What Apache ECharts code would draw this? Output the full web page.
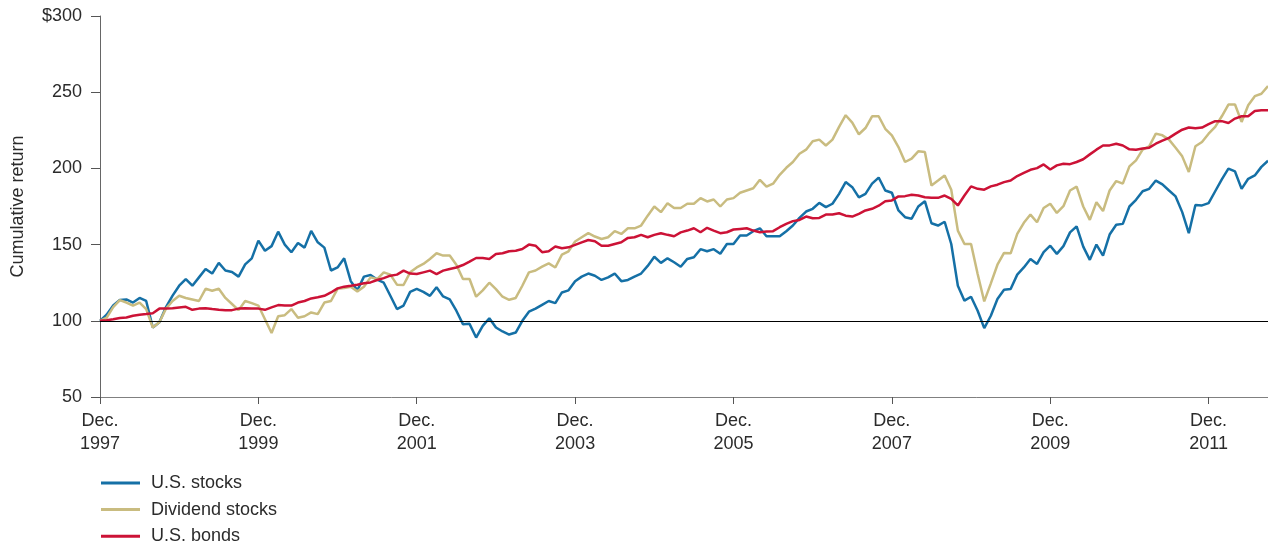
<!DOCTYPE html>
<html>
<head>
<meta charset="utf-8">
<title>Cumulative return</title>
<script src="https://cdn.jsdelivr.net/npm/echarts@6/dist/echarts.min.js"></script>
<style>
  html, body { margin: 0; padding: 0; background: #fff; }
  #chart { width: 1268px; height: 544px; }
</style>
</head>
<body>
<div id="chart"></div>
<script>
// monthly, Dec 1997 .. Sep 2012
const firstYear = 1997
const seriesNames = ['U.S. stocks', 'Dividend stocks', 'U.S. bonds']
const yTicks = [50, 100, 150, 200, 250, 300]

const usStocks = [
  100, 104, 110, 113.6, 114, 112, 115, 113, 95.6, 99, 109, 116.5, 123, 127.4, 123, 128.5, 134, 131, 138, 133,
  132, 129, 137, 141, 152.6, 146, 149, 158.5, 150, 145, 151, 148, 159, 151.5, 148, 133, 135, 141, 126, 120,
  129, 130, 127, 125, 116.4, 107.7, 110, 119, 121, 119, 116.4, 122, 116, 114, 106.6, 97.8, 98, 89, 96.7, 101.7,
  95.6, 93, 91, 92.3, 100, 106, 108, 110.5, 113, 111.6, 118.6, 120, 126, 129, 131, 129.6, 126.8, 128.5, 131, 126,
  126.8, 129, 131, 136, 142, 138, 141, 138.4, 135.5, 140.6, 141.7, 147, 145.6, 147, 144, 150.4, 150.4, 156, 156, 158.8,
  160.7, 155.5, 155.5, 155.5, 158.8, 162.5, 167.5, 171.7, 173.5, 177.4, 174.6, 176.8, 183.3, 191, 187.7, 181, 183.3, 190, 194, 185.5,
  184, 172.4, 168, 167, 175, 178.5, 164, 162.5, 165, 150.4, 123, 113.2, 115.8, 106.6, 95.2, 103.3, 114.3, 120.4, 120.8, 130.3,
  135, 140.6, 137.3, 145, 149.3, 143.9, 149, 158, 162, 148.7, 140, 150, 142.8, 156.6, 163, 163.6, 175, 179.4, 185, 186.6,
  192, 189.5, 185.5, 181.6, 171.3, 157.5, 176, 175.7, 177.2, 185, 192.8, 199.8, 198, 186.6, 193.2, 195.4, 201, 205
]

const dividendStocks = [
  100, 102, 109, 113.6, 112, 110, 112, 107.7, 95.6, 99, 108, 113, 116.4, 115, 114, 113, 121, 119.7, 121, 115,
  111, 107, 113, 111.6, 110, 101, 92, 103, 103.7, 107.7, 102, 103, 105.5, 104.4, 112, 113, 121, 121.5, 122.4, 119.3,
  122.4, 128.5, 127.4, 131.8, 130.3, 123.7, 123.5, 131.8, 135, 137.3, 140.6, 144.3, 142.8, 142.8, 136.8, 127.4, 127.4, 115.8, 120, 125,
  120.8, 115.8, 113.8, 115, 123, 131.8, 133, 135.5, 137.7, 135, 143.4, 145.6, 152, 154.8, 157.5, 155.3, 153.7, 154.8, 158.8, 157,
  160.7, 160.7, 162.5, 169, 175, 171.3, 177.2, 174, 174, 176.8, 176.8, 180.5, 178.3, 179.6, 175, 179.6, 180.5, 184, 185.5, 187,
  192.5, 188, 190, 195.8, 200.4, 204.2, 209.6, 212.3, 217.8, 218.9, 215, 218.9, 227.2, 234.9, 230, 222.4, 226.5, 234.2, 234.2, 226,
  221.7, 214, 204.2, 206.4, 211.2, 210.7, 188.8, 192, 195.4, 186, 159.2, 150.4, 150.4, 130.7, 112.7, 124.6, 136.8, 144.5, 144.3, 157,
  164.3, 169.7, 164.7, 174, 176.8, 170.8, 175.2, 185.5, 188, 175, 166.2, 177.8, 172, 185.5, 191.7, 190, 201.3, 205.3, 212.3, 214.5,
  222.8, 221.7, 218.9, 213.6, 207.9, 197.6, 214.5, 217.3, 222.8, 227.2, 234.2, 241.9, 241.9, 230.5, 241.4, 247.4, 249, 254
]

const usBonds = [
  100, 100.4, 101, 101.8, 102.2, 103.3, 104, 104.4, 105, 108, 108, 108.3, 108.8, 109.2, 107.2, 108, 108.3, 107.7, 107.2, 107,
  107, 108, 108.3, 108, 108, 107.2, 108.8, 110.3, 110, 110, 112, 113, 114.7, 115.4, 116.4, 118.6, 121.3, 122.4, 123, 123.7,
  124.6, 125.2, 126.8, 128, 129.6, 130.3, 132.9, 131, 130.7, 131.8, 132.9, 130.7, 132.9, 134, 135, 136.6, 138.8, 141.2, 141.2, 140.6,
  143.9, 144.3, 145.6, 146, 147.1, 150, 149.3, 145, 145.6, 148.7, 147.6, 148.2, 149.8, 151.5, 153, 152.2, 149.3, 149.3, 150.4, 151.5,
  154.4, 154.8, 156.4, 154.8, 156.4, 157.5, 156.4, 155.5, 158, 159.2, 160.7, 158.1, 161, 159.2, 157.5, 158.1, 159.9, 160.3, 160.7, 159.2,
  158.1, 158.6, 158.8, 161.4, 163.6, 165.4, 166.2, 168.4, 167.3, 167.5, 169.7, 169.7, 170.6, 169, 168.4, 170.2, 172.4, 173.5, 175.5, 178.5,
  179, 181.6, 181.8, 182.7, 182.2, 181.1, 180.7, 180.7, 182.2, 180, 175.7, 182.2, 188.2, 186.6, 186, 188.2, 189.3, 191, 192, 195,
  197.1, 199.1, 200.2, 202.6, 199.3, 202, 203, 202.8, 204.2, 206, 209.2, 212.3, 215, 215.1, 216.2, 215, 212.5, 212.3, 213, 213.6,
  216.2, 218.2, 220, 222.8, 225.4, 226.8, 226.4, 226.8, 229, 231, 231, 229.8, 232.7, 234.2, 234.2, 237.7, 238.2, 238.2
]

// month categories built from the start year
const monthNames = ['Dec.', 'Jan.', 'Feb.', 'Mar.', 'Apr.', 'May', 'Jun.', 'Jul.', 'Aug.', 'Sep.', 'Oct.', 'Nov.']
const months = usStocks.map(function (v, i) {
  const year = firstYear + Math.floor((i + 11) / 12)
  return monthNames[i % 12] + '\n' + year
})

const font = 'Liberation Sans'
const textColor = '#2b2b2b'
const colors = ['#1570a6', '#c9bc80', '#cc1236']

let chart = echarts.init(document.getElementById('chart'))
let option = {
  animation: false,
  color: colors,
  textStyle: { fontFamily: font },
  grid: { left: 100, right: 0, top: 16, bottom: 147, containLabel: false },
  legend: {
    orient: 'vertical',
    left: 101,
    top: 474,
    height: 90,
    padding: 0,
    itemWidth: 39,
    itemHeight: 3,
    itemGap: 8.6,
    icon: 'rect',
    data: seriesNames,
    textStyle: { fontSize: 18, color: textColor, lineHeight: 16, padding: [0, 0, 0, 6], fontFamily: font }
  },
  xAxis: {
    type: 'category',
    data: months,
    boundaryGap: false,
    axisLine: { lineStyle: { color: '#808080', width: 1 } },
    axisTick: {
      length: 7,
      lineStyle: { color: '#555' },
      interval: function (i) { return i % 24 === 0 }
    },
    axisLabel: {
      interval: function (i) { return i % 24 === 0 },
      fontSize: 18,
      lineHeight: 23,
      color: textColor,
      margin: 13,
      fontFamily: font
    }
  },
  yAxis: {
    type: 'value',
    min: yTicks[0],
    max: yTicks[yTicks.length - 1],
    interval: 50,
    name: 'Cumulative return',
    nameLocation: 'middle',
    nameRotate: 90,
    nameGap: 73,
    nameTextStyle: { fontSize: 18, color: textColor, fontFamily: font },
    splitLine: { show: false },
    axisLine: { show: true, lineStyle: { color: '#666', width: 1 } },
    axisTick: { show: true, length: 9, lineStyle: { color: '#555' } },
    axisLabel: {
      fontSize: 18,
      color: textColor,
      margin: 18,
      fontFamily: font,
      formatter: function (v) { return v === 300 ? '$300' : String(v) }
    }
  },
  series: [
    {
      name: seriesNames[0],
      type: 'line',
      data: usStocks,
      showSymbol: false,
      lineStyle: { width: 2.5 },
      markLine: {
        silent: true,
        symbol: 'none',
        label: { show: false },
        lineStyle: { color: '#000', width: 1, type: 'solid' },
        data: [{ yAxis: 100 }]
      }
    },
    {
      name: seriesNames[1],
      type: 'line',
      data: dividendStocks,
      showSymbol: false,
      lineStyle: { width: 2.5 }
    },
    {
      name: seriesNames[2],
      type: 'line',
      data: usBonds,
      showSymbol: false,
      lineStyle: { width: 2.5 }
    }
  ]
}
chart.setOption(option)
</script>
</body>
</html>
